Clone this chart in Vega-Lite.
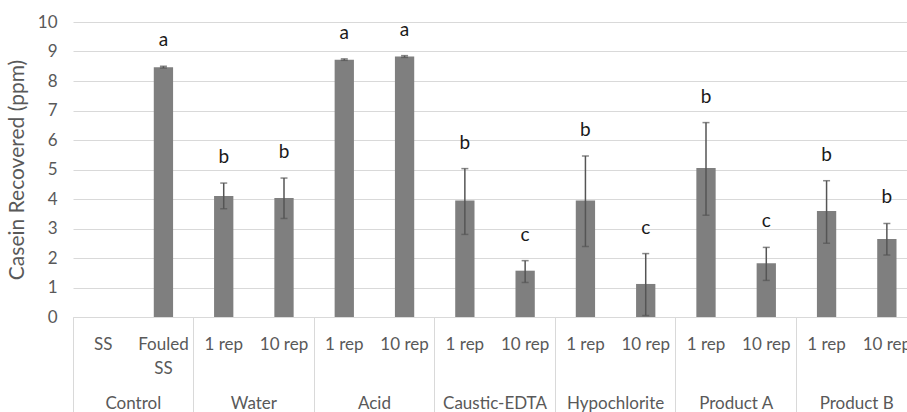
{
  "$schema": "https://vega.github.io/schema/vega-lite/v6.json",
  "width": 834,
  "height": 295,
  "autosize": {"type": "none"},
  "padding": {"left": 73, "top": 22, "right": 0, "bottom": 95},
  "background": "white",
  "config": {
    "view": {"stroke": null},
    "font": "Lato",
    "axisY": {
      "tickCount": 10,
      "labelOverlap": false,
      "grid": true,
      "gridColor": "#d9d9d9",
      "gridWidth": 1,
      "domain": false,
      "ticks": false,
      "labelFont": "Lato",
      "labelFontSize": 17,
      "labelColor": "#595959",
      "labelPadding": 16,
      "titleFont": "Lato",
      "titleFontSize": 21,
      "titleFontWeight": "normal",
      "titleColor": "#595959",
      "titlePadding": 10
    }
  },
  "data": {
    "values": [
      {"cat": "Control|SS", "mean": 0, "lo": null, "hi": null, "letter": ""},
      {"cat": "Control|Fouled SS", "mean": 8.47, "lo": 8.44, "hi": 8.5, "letter": "a"},
      {"cat": "Water|1 rep", "mean": 4.1, "lo": 3.67, "hi": 4.54, "letter": "b"},
      {"cat": "Water|10 rep", "mean": 4.03, "lo": 3.34, "hi": 4.71, "letter": "b"},
      {"cat": "Acid|1 rep", "mean": 8.72, "lo": 8.7, "hi": 8.75, "letter": "a"},
      {"cat": "Acid|10 rep", "mean": 8.83, "lo": 8.8, "hi": 8.86, "letter": "a"},
      {"cat": "Caustic-EDTA|1 rep", "mean": 3.95, "lo": 2.8, "hi": 5.03, "letter": "b"},
      {"cat": "Caustic-EDTA|10 rep", "mean": 1.57, "lo": 1.17, "hi": 1.91, "letter": "c"},
      {"cat": "Hypochlorite|1 rep", "mean": 3.95, "lo": 2.39, "hi": 5.46, "letter": "b"},
      {"cat": "Hypochlorite|10 rep", "mean": 1.12, "lo": 0.05, "hi": 2.15, "letter": "c"},
      {"cat": "Product A|1 rep", "mean": 5.05, "lo": 3.45, "hi": 6.59, "letter": "b"},
      {"cat": "Product A|10 rep", "mean": 1.82, "lo": 1.24, "hi": 2.36, "letter": "c"},
      {"cat": "Product B|1 rep", "mean": 3.59, "lo": 2.5, "hi": 4.62, "letter": "b"},
      {"cat": "Product B|10 rep", "mean": 2.64, "lo": 2.1, "hi": 3.17, "letter": "b"}
    ]
  },
  "layer": [
    {
      "mark": {"type": "bar", "width": {"band": 0.32}, "color": "#7f7f7f", "strokeWidth": 0},
      "encoding": {
        "x": {
          "field": "cat", "type": "nominal", "sort": null,
          "scale": {"range": [0, 844], "paddingInner": 0, "paddingOuter": 0},
          "axis": {
            "title": null,
            "labelExpr": "split(datum.value,'|')[1] == 'Fouled SS' ? ['Fouled','SS'] : split(datum.value,'|')[1]",
            "ticks": false,
            "domain": true,
            "domainColor": "#d9d9d9",
            "domainWidth": 1,
            "grid": false,
            "labelAngle": 0,
            "labelFont": "Lato",
            "labelFontSize": 17,
            "labelColor": "#595959",
            "labelPadding": 19,
            "labelLineHeight": 24,
            "labelLimit": 200
          }
        },
        "y": {
          "field": "mean", "type": "quantitative",
          "scale": {"domain": [0, 10]},
          "axis": {"title": "Casein Recovered (ppm)"}
        }
      }
    },
    {
      "mark": {"type": "rule", "color": "#555555", "strokeWidth": 1.5},
      "encoding": {
        "x": {"field": "cat", "type": "nominal", "sort": null, "scale": {"range": [0, 844], "paddingInner": 0, "paddingOuter": 0}, "axis": null},
        "y": {"field": "lo", "type": "quantitative"},
        "y2": {"field": "hi"}
      }
    },
    {
      "mark": {"type": "tick", "color": "#555555", "thickness": 1.5, "size": 7},
      "encoding": {
        "x": {"field": "cat", "type": "nominal", "sort": null, "scale": {"range": [0, 844], "paddingInner": 0, "paddingOuter": 0}, "axis": null},
        "y": {"field": "lo", "type": "quantitative"}
      }
    },
    {
      "mark": {"type": "tick", "color": "#555555", "thickness": 1.5, "size": 7},
      "encoding": {
        "x": {"field": "cat", "type": "nominal", "sort": null, "scale": {"range": [0, 844], "paddingInner": 0, "paddingOuter": 0}, "axis": null},
        "y": {"field": "hi", "type": "quantitative"}
      }
    },
    {
      "mark": {"type": "text", "font": "Lato", "fontSize": 19, "color": "#1a1a1a", "baseline": "alphabetic", "dy": -20},
      "encoding": {
        "x": {
          "field": "cat", "type": "nominal", "sort": null,
          "scale": {"range": [0, 844], "paddingInner": 0, "paddingOuter": 0},
          "axis": {
            "title": null,
            "orient": "bottom",
            "bandPosition": 0,
            "labelExpr": "(indexof(datum.value,'|1 rep') >= 0 || datum.value == 'Control|SS') ? split(datum.value,'|')[0] : ''",
            "labelOffset": 30.15,
            "ticks": true,
            "tickSize": 95,
            "tickWidth": 1,
            "tickColor": "#d9d9d9",
            "tickOpacity": {"condition": {"test": "indexof(datum.value,'|1 rep') >= 0 || datum.value == 'Control|SS'", "value": 1}, "value": 0},
            "domain": false,
            "grid": false,
            "labelAngle": 0,
            "labelFont": "Lato",
            "labelFontSize": 17,
            "labelColor": "#595959",
            "labelPadding": -17,
            "labelLimit": 200
          }
        },
        "y": {"field": "hi", "type": "quantitative"},
        "text": {"field": "letter"}
      }
    }
  ],
  "resolve": {"axis": {"x": "independent"}}
}
